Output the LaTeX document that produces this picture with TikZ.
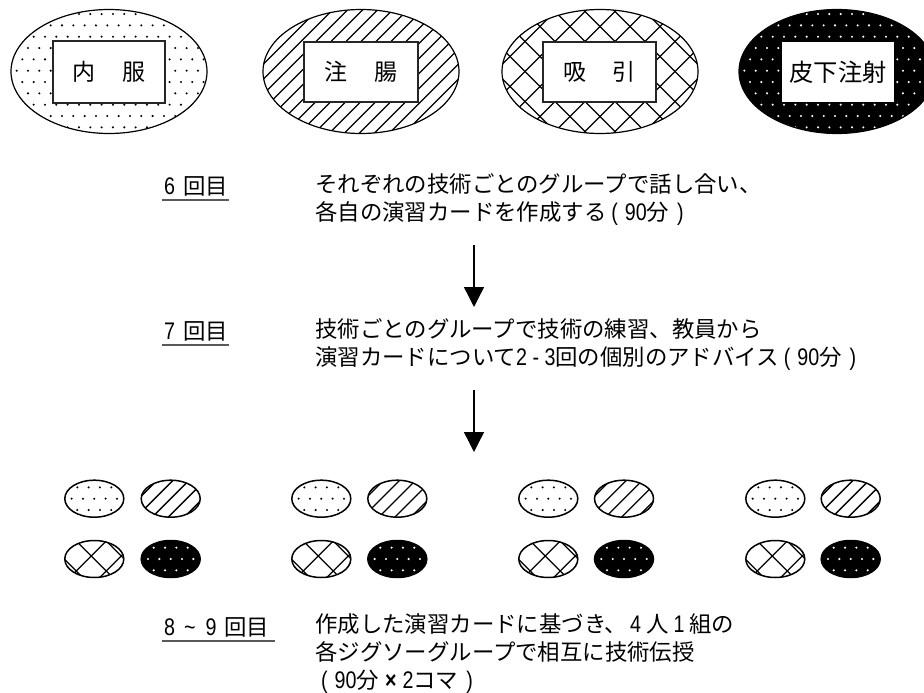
\documentclass[tikz,border=0pt]{standalone}
\usepackage{fontspec}
\setmainfont{Noto Sans CJK JP}
\newfontfamily\lat[FakeStretch=0.82]{Liberation Sans}
\usetikzlibrary{shapes.geometric,arrows.meta}
\newcommand{\la}[1]{{\lat\fontsize{24}{28}\selectfont #1}}
\newcommand{\gap}[1]{\hspace{#1pt}}
\tikzset{
  bigell/.style={ellipse,draw=black,line width=1.2pt,minimum width=196pt,minimum height=124pt,inner sep=0pt,outer sep=0pt},
  smallell/.style={ellipse,draw=black,line width=1.5pt,minimum width=59pt,minimum height=37pt,inner sep=0pt,outer sep=0pt},
  dotfill/.style n args={3}{path picture={
    \begin{scope}[shift={(path picture bounding box.center)}]
    \foreach \j in {-6,...,6}{\foreach \i in {-9,...,9}{
      \pgfmathsetmacro\xx{\i*11.33+5.667*mod(abs(\j),2)+#2}
      \pgfmathsetmacro\yy{\j*11.33+#3}
      \fill[#1] (\xx,\yy) circle (1.15pt);
    }}
    \end{scope}}},
  hatchfill/.style n args={3}{path picture={
    \begin{scope}[shift={(path picture bounding box.center)}]
    \foreach \k in {-14,...,14}{
      \pgfmathsetmacro\xx{\k*#1+#2}
      \draw[line width=#3pt] (\xx-100,100) -- (\xx+100,-100);
    }
    \end{scope}}},
  crossfill/.style n args={4}{path picture={
    \begin{scope}[shift={(path picture bounding box.center)}]
    \foreach \k in {-9,...,9}{
      \pgfmathsetmacro\xx{\k*#1+#2}
      \pgfmathsetmacro\zz{\k*#1+#3}
      \draw[line width=#4pt] (\xx-100,100) -- (\xx+100,-100);
      \draw[line width=#4pt] (\zz-100,-100) -- (\zz+100,100);
    }
    \end{scope}}},
  pdot/.style={smallell,dotfill={black}{0}{0}},
  phatch/.style={smallell,hatchfill={16}{0}{1.3}},
  pcross/.style={smallell,crossfill={30}{-6}{0}{1.3}},
  pblack/.style={smallell,fill=black,dotfill={white}{0}{0}},
  namebox/.style={draw=black!85,fill=white,line width=1.3pt,minimum width=112pt,minimum height=60pt,inner sep=0pt,outer sep=0pt,font=\fontsize{23}{28}\selectfont},
  steptext/.style={anchor=west,align=left,inner sep=0pt,font=\fontsize{22.4}{28}\selectfont},
  sessionlabel/.style={anchor=base west,inner sep=0pt,font=\fontsize{22.4}{28}\selectfont},
  rulebelow/.style={line width=1.3pt,draw=black!65},
  flow/.style={line width=1.4pt,-{Triangle[length=20pt,width=20pt]}}
}
\begin{document}
\begin{tikzpicture}[x=1pt,y=-1pt]
\clip (0,0) rectangle (924,693);
\fill[white] (0,0) rectangle (924,693);
% large ellipses
\node[bigell,dotfill={black}{-1.7}{-0.8}] (e1) at (109,71.5) {};
\node[bigell,hatchfill={15}{0}{1.1}] (e2) at (361,71.5) {};
\node[bigell,crossfill={30}{15}{15}{1.1}] (e3) at (600,71.5) {};
\node[bigell,fill=black,dotfill={white}{-2}{-0.8}] (e4) at (837,71.5) {};
\node[namebox,minimum width=112pt,minimum height=62pt] (b1) at (109,72) {内\gap{27}服};
\node[namebox,minimum width=114pt] (b2) at (361,72) {注\gap{27}腸};
\node[namebox,minimum width=113pt] (b3) at (599.5,72) {吸\gap{27}引};
\node[namebox,draw=none,font=\fontsize{24.3}{28}\selectfont] (b4) at (838,72) {皮下注射};
% session 6
\node[sessionlabel] (l6) at (164,194) {\la{6}\gap{8}回目};
\coordinate (u6a) at (162,200); \coordinate (u6b) at (229,200);
\draw[rulebelow] (u6a) -- (u6b);
\node[steptext] (t6) at (315,200) {それぞれの技術ごとのグループで話し合い、\\各自の演習カードを作成する\la{\gap{5}(\gap{7}90}分\la{\gap{8})}};
% arrow
\coordinate (a1s) at (474,245); \coordinate (a1e) at (474,307);
\draw[flow] (a1s) -- (a1e);
% session 7
\node[sessionlabel] (l7) at (164,339) {\la{7}\gap{8}回目};
\coordinate (u7a) at (162,345); \coordinate (u7b) at (229,345);
\draw[rulebelow] (u7a) -- (u7b);
\node[steptext] (t7) at (315,345) {技術ごとのグループで技術の練習、教員から\\演習カードについて\la{2 - 3}回の個別のアドバイス\la{\gap{5}(\gap{7}90}分\la{\gap{8})}};
% arrow
\coordinate (a2s) at (474,390); \coordinate (a2e) at (474,452);
\draw[flow] (a2s) -- (a2e);
% small ellipses
\foreach \n/\x/\y in {1/94.3/170.7,2/321.3/397.3,3/548.3/624,4/775.3/850.7}{
  \node[pdot] (d\n) at (\x,498.7) {};
  \node[phatch] (h\n) at (\y,498.7) {};
  \node[pcross] (c\n) at (\x,559) {};
  \node[pblack] (k\n) at (\y,559) {};
}
% session 8-9
\node[sessionlabel] (l8) at (164,635) {\la{8\gap{9}\textasciitilde\gap{10}9}\gap{8}回目};
\coordinate (u8a) at (162,641); \coordinate (u8b) at (275,641);
\draw[rulebelow] (u8a) -- (u8b);
\node[steptext] (t8) at (315,654) {作成した演習カードに基づき、\la{\gap{3}4\gap{5}}人\la{\gap{5}1\gap{5}}組の\\各ジグソーグループで相互に技術伝授\\\gap{6}\la{(\gap{7}90}分\la{\gap{6}\textbf{×}\gap{6}2}コマ\la{\gap{8})}};
\end{tikzpicture}
\end{document}
